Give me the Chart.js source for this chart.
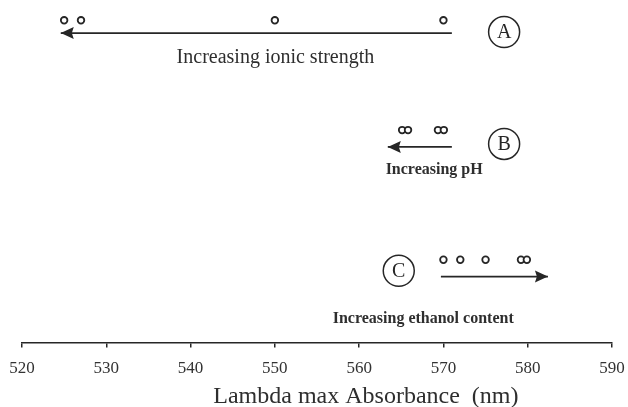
<!DOCTYPE html>
<html>
<head>
<meta charset="utf-8">
<script src="https://cdn.jsdelivr.net/npm/chart.js@4/dist/chart.umd.min.js"></script>
<style>
  html, body { margin: 0; padding: 0; background: #ffffff; }
  #wrap { width: 628px; height: 407px; position: relative; }
</style>
</head>
<body>
<div id="wrap"><canvas id="c" width="628" height="407"></canvas></div>
<script>
// ---- data (lambda max, nm) ----
const xTicks = [520, 530, 540, 550, 560, 570, 580, 590];
const seriesA = [525, 527, 550, 570];               // increasing ionic strength
const seriesB = [565.1, 565.8, 569.35, 570.05];     // increasing pH
const seriesC = [570, 572, 575, 579.2, 579.9];      // increasing ethanol content
const arrowA = [571.0, 524.6];                      // tail -> tip
const arrowB = [571.0, 563.4];
const arrowC = [569.7, 582.4];
const labelA = "Increasing ionic strength";
const labelB = "Increasing pH";
const labelC = "Increasing ethanol content";
const axisTitle = "Lambda max Absorbance  (nm)";

// ---- layout (row levels on a hidden 0..100 vertical scale) ----
const rows = {
  A: { pts: 95.7, arrow: 91.9, circleX: 577.2, circleY: 92.2, text: 84.7, textX: 550.07 },
  B: { pts: 63.1, arrow: 58.1, circleX: 577.2, circleY: 59.0, text: 51.2, textX: 568.9 },
  C: { pts: 24.6, arrow: 19.6, circleX: 564.7, circleY: 21.3, text: 7.0,  textX: 567.6 }
};
const titleX = 560.8;
const INK = '#262626';

function ptsDs(vals, y) {
  return {
    data: vals.map(v => ({ x: v, y: y })),
    showLine: false,
    pointStyle: 'circle',
    pointRadius: 3.3,
    pointBorderWidth: 1.8,
    pointBorderColor: INK,
    pointBackgroundColor: '#ffffff'
  };
}
function arrowDs(a, y) {
  return {
    data: a.map(v => ({ x: v, y: y })),
    showLine: true,
    borderColor: INK,
    borderWidth: 1.6,
    pointRadius: 0
  };
}

const annot = {
  id: 'annot',
  afterDatasetsDraw(chart) {
    const ctx = chart.ctx;
    const xs = chart.scales.x, ys = chart.scales.y;
    ctx.save();
    // arrowheads
    [[arrowA, rows.A.arrow], [arrowB, rows.B.arrow], [arrowC, rows.C.arrow]].forEach(([a, yv]) => {
      const tx = xs.getPixelForValue(a[1]);
      const fx = xs.getPixelForValue(a[0]);
      const py = ys.getPixelForValue(yv);
      const dir = tx < fx ? -1 : 1;
      const len = 13, half = 6;
      ctx.fillStyle = INK;
      ctx.beginPath();
      ctx.moveTo(tx, py);
      ctx.lineTo(tx - dir * len, py - half);
      ctx.lineTo(tx - dir * len * 0.85, py);
      ctx.lineTo(tx - dir * len, py + half);
      ctx.closePath();
      ctx.fill();
    });
    // circled letters
    ctx.strokeStyle = INK;
    ctx.fillStyle = INK;
    ctx.lineWidth = 1.5;
    ctx.textAlign = 'center';
    ctx.textBaseline = 'middle';
    Object.keys(rows).forEach(k => {
      const r = rows[k];
      const cx = xs.getPixelForValue(r.circleX);
      const cy = ys.getPixelForValue(r.circleY);
      ctx.beginPath();
      ctx.arc(cx, cy, 15.5, 0, Math.PI * 2);
      ctx.stroke();
      ctx.font = '20px "Liberation Serif"';
      ctx.fillText(k, cx, cy + 1);
    });
    // labels
    const labs = [
      [labelA, rows.A, '20px "Liberation Serif"'],
      [labelB, rows.B, 'bold 16px "Liberation Serif"'],
      [labelC, rows.C, '600 16px "Liberation Serif"']
    ];
    labs.forEach(([t, r, f]) => {
      ctx.font = f;
      ctx.fillStyle = '#2e2e2e';
      ctx.fillText(t, xs.getPixelForValue(r.textX), ys.getPixelForValue(r.text));
    });
    // axis title
    ctx.font = '24px "Liberation Serif"';
    ctx.fillStyle = '#2e2e2e';
    ctx.fillText(axisTitle, xs.getPixelForValue(titleX), chart.chartArea.bottom + 54);
    ctx.restore();
  }
};

new Chart(document.getElementById('c'), {
  type: 'scatter',
  data: {
    datasets: [
      ptsDs(seriesA, rows.A.pts),
      ptsDs(seriesB, rows.B.pts),
      ptsDs(seriesC, rows.C.pts),
      arrowDs(arrowA, rows.A.arrow),
      arrowDs(arrowB, rows.B.arrow),
      arrowDs(arrowC, rows.C.arrow)
    ]
  },
  options: {
    responsive: false,
    animation: false,
    layout: { padding: { left: 0, right: 0, top: 0, bottom: 17 } },
    plugins: { legend: { display: false }, tooltip: { enabled: false } },
    scales: {
      x: {
        type: 'linear',
        min: 520, max: 590,
        afterBuildTicks: s => { s.ticks = xTicks.map(v => ({ value: v })); },
        afterFit: s => { s.paddingLeft = 22; s.paddingRight = 16; },
        grid: { drawOnChartArea: false, drawTicks: true, tickLength: 5, color: INK, lineWidth: 1.5 },
        border: { display: true, color: INK, width: 1.6 },
        ticks: { color: '#333', font: { family: 'Liberation Serif', size: 17 }, padding: 11, maxRotation: 0 },
        title: { display: false }
      },
      y: { display: false, min: 0, max: 100 }
    }
  },
  plugins: [annot]
});
</script>
</body>
</html>
